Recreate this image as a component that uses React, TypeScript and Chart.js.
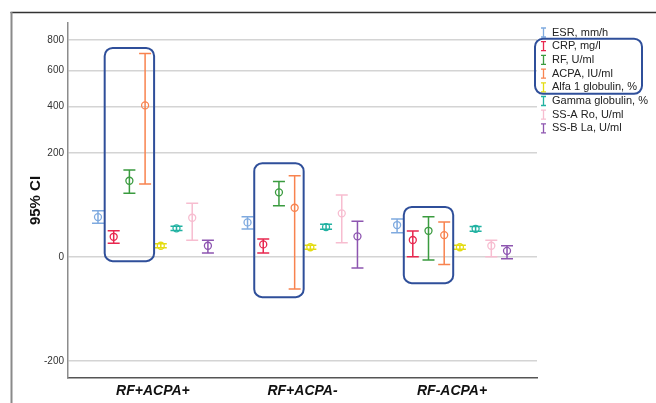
import React, { useEffect, useRef } from "react";
import { Chart, registerables } from "chart.js";
Chart.register(...registerables);

const groups = ["RF+ACPA+", "RF+ACPA-", "RF-ACPA+"];
const seriesNames = [
  "ESR, mm/h",
  "CRP, mg/l",
  "RF, U/ml",
  "ACPA, IU/ml",
  "Alfa 1 globulin, %",
  "Gamma globulin, %",
  "SS-A Ro, U/ml",
  "SS-B La, U/ml",
];
const seriesColors = ["#7FAADF", "#E8274F", "#3A9B3F", "#F8834F", "#E4DC12", "#22B2A2", "#F7BDD0", "#8D55B0"];

// mean, lower and upper 95% CI per group
const esrMean = [32.5, 24.8, 21.3];
const esrLow = [23.5, 16.5, 12.6];
const esrHigh = [42.9, 33.0, 29.5];
const crpMean = [8.9, 3.6, 6.4];
const crpLow = [4.2, 0.4, 0.0];
const crpHigh = [14.6, 7.1, 14.3];
const rfMean = [110.8, 81, 14.6];
const rfLow = [78.7, 52.2, -0.3];
const rfHigh = [142, 109, 33.0];
const acpaMean = [406, 48.4, 10.4];
const acpaLow = [102, -22, -1.5];
const acpaHigh = [709, 125, 25.4];
const alfaMean = [2.9, 2.2, 2.2];
const alfaLow = [2.0, 1.4, 1.4];
const alfaHigh = [4.0, 3.1, 3.1];
const gammaMean = [17.3, 18.8, 16.8];
const gammaLow = [15.0, 16.2, 14.2];
const gammaHigh = [19.8, 22.2, 19.6];
const ssaMean = [31.5, 38.5, 2.9];
const ssaLow = [6.3, 4.5, 0.0];
const ssaHigh = [56.9, 74.7, 6.3];
const ssbMean = [2.9, 9.3, 0.9];
const ssbLow = [0.4, -3.0, -0.1];
const ssbHigh = [6.3, 26.2, 2.9];

const means = [esrMean, crpMean, rfMean, acpaMean, alfaMean, gammaMean, ssaMean, ssbMean];
const lows = [esrLow, crpLow, rfLow, acpaLow, alfaLow, gammaLow, ssaLow, ssbLow];
const highs = [esrHigh, crpHigh, rfHigh, acpaHigh, alfaHigh, gammaHigh, ssaHigh, ssbHigh];

const yTicks = [800, 600, 400, 200, 0, -200];
const yRange = [-267, 922];

// hand-drawn highlight boxes (CRP..ACPA in each group), in value units
const highlightFrom = 1;
const highlightTo = 3;
const highlightTop = [745, 164, 50];
const highlightBottom = [-0.5, -33.5, -15];
const legendHighlightFrom = 1;
const legendHighlightTo = 4;

const POW = 0.53;
const tf = (v: number) => Math.sign(v) * Math.pow(Math.abs(v), POW);
const tinv = (t: number) => Math.sign(t) * Math.pow(Math.abs(t), 1 / POW);

const STEP = 0.105;
const FONT = "'Liberation Sans', Arial, sans-serif";
const BOX_COLOR = "#2F4F9A";

export default function App() {
  const ref = useRef<HTMLCanvasElement | null>(null);

  useEffect(() => {
    if (!ref.current) return;

    const datasets = seriesNames.map((name, s) => ({
      label: name,
      data: groups.map((_, g) => ({ x: g + (s - 3.5) * STEP, y: tf(means[s][g]) })),
      low: lows[s].map(tf),
      high: highs[s].map(tf),
      borderColor: seriesColors[s],
      backgroundColor: "rgba(0,0,0,0)",
      pointRadius: 3.5,
      pointHoverRadius: 3.5,
      pointBorderWidth: 1.3,
      pointBackgroundColor: "rgba(0,0,0,0)",
      pointBorderColor: seriesColors[s],
      showLine: false,
    }));

    const frame = {
      id: "frame",
      beforeDraw(chart: any) {
        const ctx = chart.ctx;
        ctx.save();
        ctx.fillStyle = "#fff";
        ctx.fillRect(0, 0, chart.width, chart.height);
        ctx.strokeStyle = "#333";
        ctx.lineWidth = 1.5;
        ctx.beginPath();
        ctx.moveTo(10.5, 12.5);
        ctx.lineTo(chart.width, 12.5);
        ctx.stroke();
        ctx.strokeStyle = "#8a8a8a";
        ctx.lineWidth = 2;
        ctx.beginPath();
        ctx.moveTo(11.5, 12);
        ctx.lineTo(11.5, chart.height);
        ctx.stroke();
        ctx.restore();
      },
    };

    const errorBars = {
      id: "errorBars",
      beforeDatasetsDraw(chart: any) {
        const ctx = chart.ctx;
        const y = chart.scales.y;
        chart.data.datasets.forEach((ds: any, i: number) => {
          const meta = chart.getDatasetMeta(i);
          meta.data.forEach((pt: any, j: number) => {
            const lo = y.getPixelForValue(ds.low[j]);
            const hi = y.getPixelForValue(ds.high[j]);
            ctx.save();
            ctx.strokeStyle = ds.borderColor;
            ctx.lineWidth = 1.5;
            ctx.beginPath();
            ctx.moveTo(pt.x, hi);
            ctx.lineTo(pt.x, lo);
            ctx.moveTo(pt.x - 6, hi);
            ctx.lineTo(pt.x + 6, hi);
            ctx.moveTo(pt.x - 6, lo);
            ctx.lineTo(pt.x + 6, lo);
            ctx.stroke();
            ctx.restore();
          });
        });
      },
    };

    const highlights = {
      id: "highlights",
      afterDatasetsDraw(chart: any) {
        const ctx = chart.ctx;
        const x = chart.scales.x;
        const y = chart.scales.y;
        ctx.save();
        ctx.strokeStyle = BOX_COLOR;
        ctx.lineWidth = 2;
        groups.forEach((_, g) => {
          const x0 = x.getPixelForValue(g + (highlightFrom - 3.5) * STEP) - 9;
          const x1 = x.getPixelForValue(g + (highlightTo - 3.5) * STEP) + 9;
          const y0 = y.getPixelForValue(tf(highlightTop[g]));
          const y1 = y.getPixelForValue(tf(highlightBottom[g]));
          ctx.beginPath();
          ctx.roundRect(x0, y0, x1 - x0, y1 - y0, 8);
          ctx.stroke();
        });
        ctx.restore();
      },
    };

    const legend = {
      id: "customLegend",
      afterDraw(chart: any) {
        const ctx = chart.ctx;
        const ix = 543.5;
        const tx = 552;
        const y0 = 32.5;
        const dy = 13.7;
        ctx.save();
        ctx.font = `11px ${FONT}`;
        ctx.textBaseline = "middle";
        ctx.textAlign = "left";
        seriesNames.forEach((name, s) => {
          const cy = y0 + s * dy;
          ctx.strokeStyle = seriesColors[s];
          ctx.lineWidth = 1.3;
          ctx.beginPath();
          ctx.moveTo(ix, cy - 4.5);
          ctx.lineTo(ix, cy + 4.5);
          ctx.moveTo(ix - 2.5, cy - 4.5);
          ctx.lineTo(ix + 2.5, cy - 4.5);
          ctx.moveTo(ix - 2.5, cy + 4.5);
          ctx.lineTo(ix + 2.5, cy + 4.5);
          ctx.stroke();
          ctx.fillStyle = "#222";
          ctx.fillText(name, tx, cy);
        });
        const by0 = y0 + legendHighlightFrom * dy - 7.5;
        const by1 = y0 + legendHighlightTo * dy + 6.5;
        ctx.strokeStyle = BOX_COLOR;
        ctx.lineWidth = 2;
        ctx.beginPath();
        ctx.roundRect(535, by0, 107, by1 - by0, 8);
        ctx.stroke();
        ctx.restore();
      },
    };

    const chart = new Chart(ref.current, {
      type: "scatter",
      data: { datasets: datasets as any },
      options: {
        responsive: false,
        devicePixelRatio: 1,
        animation: false,
        events: [],
        layout: { padding: { left: 0, right: 119, top: 23, bottom: 0 } },
        plugins: {
          legend: { display: false },
          tooltip: { enabled: false },
        },
        scales: {
          x: {
            type: "linear",
            min: -0.568,
            max: 2.568,
            afterBuildTicks: (scale: any) => {
              scale.ticks = groups.map((_, i) => ({ value: i }));
            },
            afterFit: (scale: any) => {
              scale.height = 25;
            },
            ticks: {
              autoSkip: false,
              maxRotation: 0,
              padding: 5,
              color: "#111",
              font: { family: FONT, size: 14, weight: "bold", style: "italic" },
              callback: (v: any) => groups[Math.round(Number(v))] ?? "",
            },
            grid: { display: false, drawTicks: false },
            border: { display: true, color: "#555", width: 1.5 },
          },
          y: {
            type: "linear",
            min: tf(yRange[0]),
            max: tf(yRange[1]),
            afterBuildTicks: (scale: any) => {
              scale.ticks = yTicks.map((v) => ({ value: tf(v) }));
            },
            afterFit: (scale: any) => {
              scale.width = 68;
            },
            ticks: {
              autoSkip: false,
              padding: 4,
              color: "#333",
              font: { family: FONT, size: 10 },
              callback: (v: any) => String(Math.round(tinv(Number(v)))),
            },
            grid: { color: "#d4d4d4", lineWidth: 1.5, drawTicks: false },
            border: { display: true, color: "#8c8c8c", width: 1.5 },
            title: {
              display: true,
              text: "95% CI",
              color: "#111",
              font: { family: FONT, size: 15, weight: "bold" },
              padding: { top: 27, bottom: 0 },
            },
          },
        },
      },
      plugins: [frame, errorBars, highlights, legend],
    } as any);

    return () => chart.destroy();
  }, []);

  return (
    <div style={{ position: "absolute", left: 0, top: 0, width: 656, height: 403, background: "#fff" }}>
      <canvas ref={ref} width={656} height={403} style={{ display: "block" }} />
    </div>
  );
}
